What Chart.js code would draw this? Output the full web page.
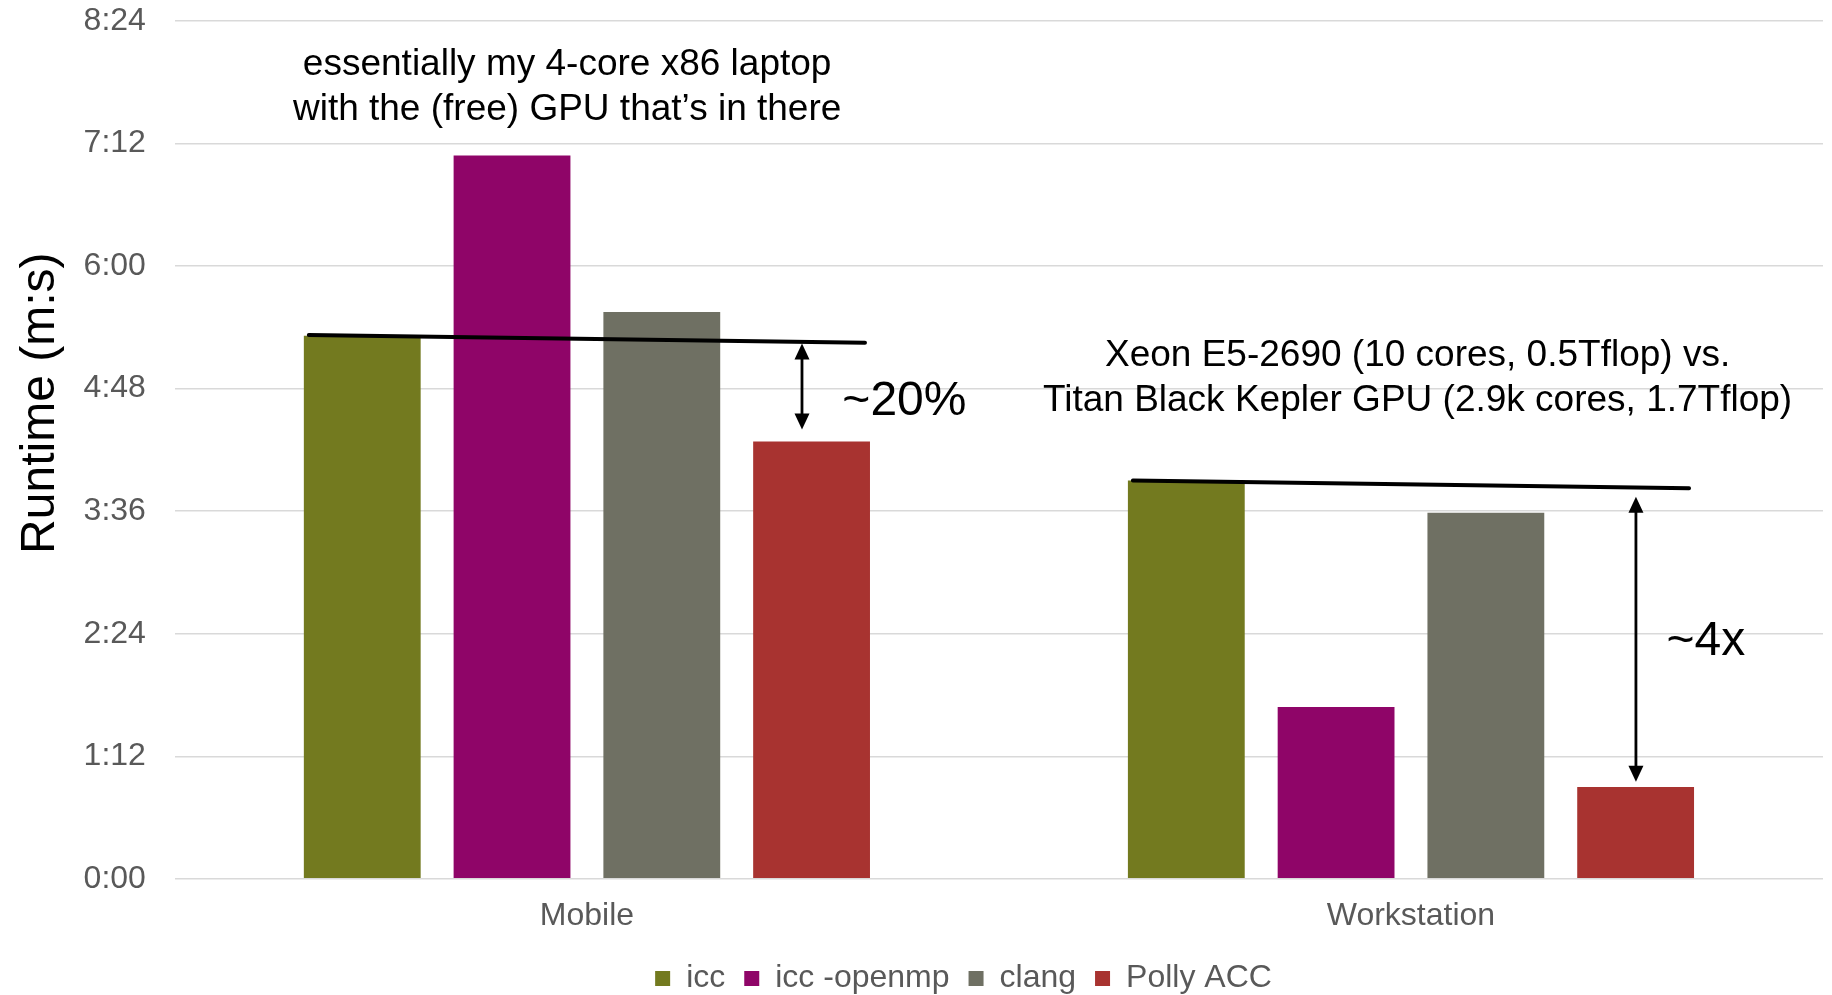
<!DOCTYPE html>
<html lang="en-US">
<head>
    <meta charset="utf-8">
    <title>Runtime (m:s)</title>
    <script src="https://cdn.jsdelivr.net/npm/chart.js@4/dist/chart.umd.min.js"></script>
</head>
<style>
    body { margin: 0; background: #ffffff; }
    #holder { width: 1832px; height: 995px; }
</style>
<body>
<div id="holder">
    <canvas id="chart"></canvas>
</div>
<script>
    // runtimes in seconds
    const categories = ['Mobile', 'Workstation'];
    const seriesNames = ['icc', 'icc -openmp', 'clang', 'Polly ACC'];
    const icc = [319, 234];
    const iccOpenmp = [425, 101];
    const clang = [333, 215];
    const pollyAcc = [257, 54];
    const colors = ['#737a1f', '#8f0568', '#6f7063', '#a83330'];

    // axis: 0:00 .. 8:24 every 1:12
    const yMax = 504;
    const yStep = 72;

    // callouts (x is a category index, y is seconds)
    const flatLines = [
        {cat: 0, from: 319.5, to: 315},
        {cat: 1, from: 234, to: 229.5}
    ];
    const arrows = [
        {x: 0.261, from: 314.5, to: 264},
        {x: 1.273, from: 224.5, to: 57}
    ];
    const notes = [
        {x: -0.024, y: 478, size: 37, align: 'center', text: 'essentially my 4-core x86 laptop'},
        {x: -0.024, y: 452, size: 37, align: 'center', text: 'with the (free) GPU that\u2019s in there'},
        {x: 1.008, y: 307, size: 37, align: 'center', text: 'Xeon E5-2690 (10 cores, 0.5Tflop) vs.'},
        {x: 1.008, y: 281, size: 37, align: 'center', text: 'Titan Black Kepler GPU (2.9k cores, 1.7Tflop)'},
        {x: 0.31, y: 280, size: 48, align: 'left', text: '~20%'},
        {x: 1.31, y: 139, size: 48, align: 'left', text: '~4x'}
    ];

    const fmt = function (v) {
        let m = Math.floor(v / 60);
        let s = Math.round(v % 60);
        return m + ':' + String(s).padStart(2, '0');
    };

    const FONT = '"Liberation Sans", Arial, sans-serif';

    const callouts = {
        id: 'callouts',
        afterUpdate(chart) {
            // nudge the legend to where it sits in the slide
            const lg = chart.legend;
            lg.left += 52; lg.right += 52;
            lg.top += 9.5; lg.bottom += 9.5;
        },
        afterDatasetsDraw(chart) {
            const ctx = chart.ctx;
            const xs = chart.scales.x, ys = chart.scales.y;
            const first = chart.getDatasetMeta(0).data;
            const last = chart.getDatasetMeta(3).data;
            ctx.save();
            ctx.strokeStyle = '#000';
            ctx.fillStyle = '#000';
            ctx.lineCap = 'round';

            flatLines.forEach(function (l) {
                let b0 = first[l.cat], b1 = last[l.cat];
                ctx.lineWidth = 4;
                ctx.beginPath();
                ctx.moveTo(b0.x - b0.width / 2 + 5, ys.getPixelForValue(l.from));
                ctx.lineTo(b1.x + b1.width / 2 - 5, ys.getPixelForValue(l.to));
                ctx.stroke();
            });

            arrows.forEach(function (a) {
                let x = xs.getPixelForValue(a.x);
                let y0 = ys.getPixelForValue(a.from), y1 = ys.getPixelForValue(a.to);
                let hl = 16, hw = 7.5;
                ctx.lineWidth = 2.8;
                ctx.lineCap = 'butt';
                ctx.beginPath();
                ctx.moveTo(x, y0 + hl - 2);
                ctx.lineTo(x, y1 - hl + 2);
                ctx.stroke();
                ctx.beginPath();
                ctx.moveTo(x, y0); ctx.lineTo(x - hw, y0 + hl); ctx.lineTo(x + hw, y0 + hl);
                ctx.closePath(); ctx.fill();
                ctx.beginPath();
                ctx.moveTo(x, y1); ctx.lineTo(x - hw, y1 - hl); ctx.lineTo(x + hw, y1 - hl);
                ctx.closePath(); ctx.fill();
            });

            ctx.textBaseline = 'middle';
            notes.forEach(function (n) {
                ctx.font = n.size + 'px ' + FONT;
                ctx.textAlign = n.align;
                ctx.fillText(n.text, xs.getPixelForValue(n.x), ys.getPixelForValue(n.y));
            });
            ctx.restore();
        }
    };

    const series = [icc, iccOpenmp, clang, pollyAcc];

    const config = {
        type: 'bar',
        data: {
            labels: categories,
            datasets: series.map(function (vals, i) {
                return {
                    label: seriesNames[i],
                    data: vals,
                    backgroundColor: colors[i],
                    borderWidth: 0,
                    categoryPercentage: 0.727,
                    barPercentage: 0.78
                };
            })
        },
        options: {
            responsive: true,
            maintainAspectRatio: false,
            animation: false,
            layout: {
                padding: {top: 21, right: 9, left: 0, bottom: 0}
            },
            plugins: {
                tooltip: {enabled: false},
                legend: {
                    position: 'bottom',
                    labels: {
                        color: '#595959',
                        font: {family: FONT, size: 32},
                        boxWidth: 15,
                        boxHeight: 15,
                        padding: 19
                    }
                }
            },
            scales: {
                x: {
                    grid: {display: false, drawTicks: true, tickLength: 20},
                    border: {display: false},
                    ticks: {
                        color: '#595959',
                        font: {family: FONT, size: 32, lineHeight: 1.1},
                        padding: 0
                    }
                },
                y: {
                    min: 0,
                    max: yMax,
                    border: {display: false},
                    grid: {color: '#d9d9d9', lineWidth: 1.5, drawTicks: true, tickLength: 29, tickColor: 'rgba(0,0,0,0)'},
                    ticks: {
                        stepSize: yStep,
                        color: '#595959',
                        font: {family: FONT, size: 32},
                        padding: 0,
                        callback: fmt
                    },
                    title: {
                        display: true,
                        // leading no-break spaces lift the title a little above centre, as on the slide
                        text: '\u00a0\u00a0\u00a0\u00a0\u00a0\u00a0\u00a0Runtime (m:s)',
                        color: '#000000',
                        font: {family: FONT, size: 48},
                        padding: {top: 12, bottom: 14}
                    }
                }
            }
        },
        plugins: [callouts]
    };

    window.onload = function () {
        let ctx = document.getElementById('chart').getContext('2d');
        window.myChart = new Chart(ctx, config);
    };
</script>
</body>
</html>
